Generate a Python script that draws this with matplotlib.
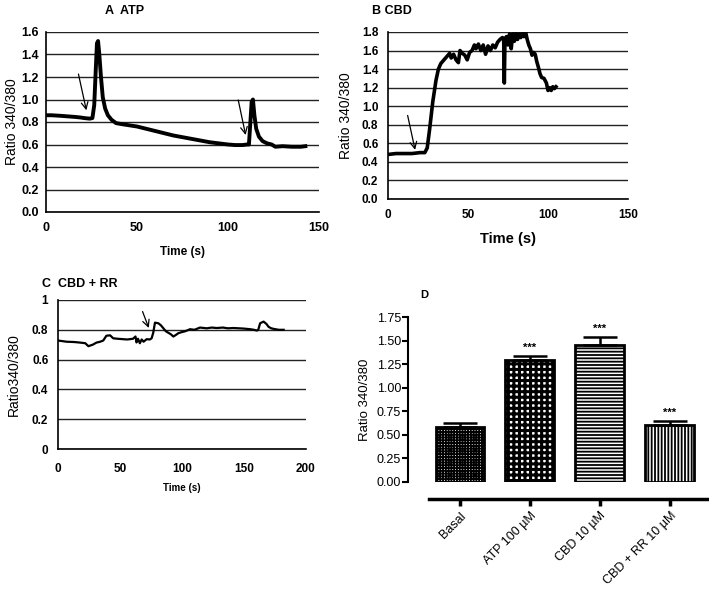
"""
Calcium imaging traces (A-C) and mean ratio bar chart (D)
"""

import numpy as np
import matplotlib.pyplot as plt

plt.rcParams['font.family'] = ['Liberation Sans', 'DejaVu Sans']
plt.rcParams['hatch.linewidth'] = 1.3

# ── Data ───────────────────────────────────────────────────────
atp_t = [0, 3, 8, 12, 16, 19, 21, 24, 25.5, 26.5, 27.3, 28, 28.6, 29.3, 30.2,
         31.2, 32.5, 34, 36, 38.5, 42, 46, 50, 55, 60, 65, 70, 75, 80, 85, 90,
         95, 100, 104, 108, 110.5, 111.5, 112.3, 113, 113.7, 114.5, 115.5,
         117, 119, 121.5, 124, 126, 130, 135, 140, 142.5]
atp_r = [0.86, 0.86, 0.855, 0.85, 0.845, 0.84, 0.835, 0.83, 0.835, 0.95, 1.25,
         1.50, 1.52, 1.40, 1.20, 1.02, 0.92, 0.86, 0.82, 0.79, 0.78, 0.77, 0.76,
         0.74, 0.72, 0.70, 0.68, 0.665, 0.65, 0.635, 0.62, 0.61, 0.60, 0.595,
         0.595, 0.60, 0.60, 0.80, 0.98, 1.00, 0.86, 0.74, 0.67, 0.63, 0.61,
         0.60, 0.58, 0.585, 0.58, 0.58, 0.585]
atp_arrows = [((17.5, 1.25), (22.5, 0.88)), ((105.3, 1.02), (110, 0.66))]

cbd_t = [0, 5, 10, 15, 20, 23, 24.5, 26, 28, 30, 31.5, 33, 35, 37, 38.5, 39.5,
         41, 42.5, 44, 45, 46.5, 48, 49.5, 51, 52.5, 54, 55, 56.5, 58, 59.5,
         61, 62.5, 64, 65.5, 67, 68.5, 70, 71.5, 72.3, 72.7, 73.1, 74, 75, 76,
         77, 78, 79, 80, 81, 82, 83, 84, 85, 86, 87, 88, 89, 90, 91, 92, 93,
         94, 95, 96, 97.5, 99, 100, 101, 102, 103, 104, 105]
cbd_r = [0.48, 0.49, 0.49, 0.49, 0.50, 0.50, 0.55, 0.75, 1.05, 1.28, 1.40, 1.46,
         1.50, 1.54, 1.57, 1.52, 1.56, 1.50, 1.47, 1.60, 1.57, 1.55, 1.50, 1.58,
         1.60, 1.66, 1.62, 1.67, 1.60, 1.66, 1.56, 1.65, 1.60, 1.66, 1.63, 1.69,
         1.72, 1.74, 1.73, 1.25, 1.72, 1.75, 1.66, 1.78, 1.62, 1.78, 1.70, 1.79,
         1.72, 1.78, 1.74, 1.79, 1.75, 1.80, 1.72, 1.66, 1.62, 1.55, 1.58, 1.56,
         1.48, 1.42, 1.35, 1.31, 1.30, 1.25, 1.17, 1.20, 1.17, 1.21, 1.19, 1.21]
cbd_arrow = ((11.9, 0.93), (17.3, 0.50))

rr_t = [0, 7, 13, 18, 22, 24.5, 28, 31, 34, 36.5, 39, 42, 44.5, 48, 52.5, 56,
        60.5, 62.5, 63.3, 64.5, 66, 67.5, 69, 71.5, 74, 75.5, 76.8, 78.2, 80.9,
        83, 85, 87, 89, 91, 93, 95, 97, 100, 102.5, 106.5, 110, 114.5, 120,
        124, 128, 133, 137, 141.5, 146, 150, 155, 158, 160.4, 161.5, 163, 165.8,
        168, 169.8, 172, 174, 178, 182]
rr_r = [0.728, 0.72, 0.718, 0.714, 0.71, 0.69, 0.70, 0.714, 0.72, 0.728, 0.76,
        0.763, 0.743, 0.74, 0.737, 0.735, 0.74, 0.755, 0.715, 0.74, 0.71, 0.735,
        0.72, 0.737, 0.735, 0.743, 0.78, 0.848, 0.844, 0.83, 0.81, 0.79, 0.78,
        0.77, 0.755, 0.765, 0.777, 0.785, 0.79, 0.804, 0.80, 0.815, 0.81, 0.815,
        0.812, 0.815, 0.81, 0.812, 0.81, 0.808, 0.804, 0.80, 0.795, 0.80, 0.844,
        0.855, 0.84, 0.82, 0.81, 0.806, 0.80, 0.80]
rr_arrow = ((67.4, 0.94), (74, 0.795))

groups = ["Basal", "ATP 100 \u00b5M", "CBD 10 \u00b5M", "CBD + RR 10 \u00b5M"]
means = [0.58, 1.29, 1.45, 0.60]
sems = [0.05, 0.05, 0.09, 0.05]
signif = ["", "***", "***", "***"]
hatches = ["++++++", "+++", "-----", "|||||"]
hatch_lw = [1.3, 2.2, 1.3, 1.3]

# ── Figure ─────────────────────────────────────────────────────
W, H = 709, 601
fig = plt.figure(figsize=(W / 100, H / 100), dpi=100)


def px_axes(x0, y0, x1, y1):
    return fig.add_axes([x0 / W, 1 - y1 / H, (x1 - x0) / W, (y1 - y0) / H])


def trace_style(ax, xmax, ymax, ystep, yfmt, tick_size=8.5):
    ax.set_xlim(0, xmax)
    ax.set_ylim(0, ymax)
    ax.set_yticks(np.arange(0, ymax + 1e-9, ystep))
    ax.set_yticklabels([yfmt(v) for v in np.arange(0, ymax + 1e-9, ystep)])
    ax.set_xticks(np.arange(0, xmax + 1, 50))
    ax.grid(axis='y', color='#222222', lw=1.0)
    ax.set_axisbelow(True)
    for s in ['top', 'right']:
        ax.spines[s].set_visible(False)
    for s in ['left', 'bottom']:
        ax.spines[s].set_linewidth(1.2)
    ax.tick_params(length=0, pad=7, labelsize=tick_size)
    for lab in ax.get_xticklabels() + ax.get_yticklabels():
        lab.set_fontweight('bold')


def arrow(ax, a):
    (x0, y0), (x1, y1) = a
    ax.annotate("", xy=(x1, y1), xytext=(x0, y0),
                arrowprops=dict(arrowstyle="->", color="black", lw=0.9,
                                mutation_scale=12))


# A  ATP
axA = px_axes(46, 32, 319, 212)
axA.plot(atp_t, atp_r, color='black', lw=2.8, solid_joinstyle='round')
for a in atp_arrows:
    arrow(axA, a)
trace_style(axA, 150, 1.6, 0.2, lambda v: f"{v:.1f}", tick_size=9)
axA.tick_params(axis='y', pad=5)
axA.set_ylabel("Ratio 340/380", fontsize=10, labelpad=2)
axA.set_xlabel("Time (s)", fontsize=8.5, fontweight='bold', labelpad=9)
fig.text(105 / W, 1 - 14 / H, "A  ATP", fontsize=9, fontweight='bold')

# B  CBD
axB = px_axes(388, 32, 628, 199)
axB.plot(cbd_t, cbd_r, color='black', lw=2.6, solid_joinstyle='round')
arrow(axB, cbd_arrow)
trace_style(axB, 150, 1.8, 0.2, lambda v: f"{v:.1f}")
axB.set_ylabel("Ratio 340/380", fontsize=10, labelpad=6)
axB.set_xlabel("Time (s)", fontsize=10.5, fontweight='bold', labelpad=8)
fig.text(372 / W, 1 - 14 / H, "B CBD", fontsize=9, fontweight='bold')

# C  CBD + RR
axC = px_axes(58, 300, 306, 449)
axC.plot(rr_t, rr_r, color='black', lw=1.6)
arrow(axC, rr_arrow)
trace_style(axC, 200, 1.0, 0.2, lambda v: f"{v:g}")
axC.tick_params(axis='x', pad=10)
axC.set_ylabel("Ratio340/380", fontsize=10, labelpad=8)
axC.set_xlabel("Time (s)", fontsize=7, fontweight='bold', labelpad=6)
fig.text(42 / W, 1 - 287 / H, "C  CBD + RR", fontsize=9, fontweight='bold')

# D  bar chart
axD = px_axes(429, 317, 707, 482)
for s in ['top', 'right']:
    axD.spines[s].set_visible(False)
axD.spines['left'].set_position(('outward', 15))
axD.spines['left'].set_bounds(0, 1.75)
axD.spines['left'].set_linewidth(1.5)
axD.spines['bottom'].set_position(('outward', 12))
axD.spines['bottom'].set_linewidth(2.5)

x = np.arange(len(groups))
bars = axD.bar(x, means, width=0.7, color='white', edgecolor='black',
               linewidth=2.0)
for b, h, hlw in zip(bars, hatches, hatch_lw):
    b.set_hatch(h)
    if hasattr(b, 'set_hatch_linewidth'):
        b.set_hatch_linewidth(hlw)
axD.errorbar(x, means, yerr=[[0] * len(sems), sems], fmt='none',
             ecolor='black', elinewidth=1.8, capsize=12, capthick=1.8)
for xi, m, s, lab in zip(x, means, sems, signif):
    if lab:
        axD.text(xi, m + s + 0.03, lab, ha='center', va='bottom',
                 fontsize=8, fontweight='bold')
axD.set_xlim(-0.443, 3.53)
axD.set_ylim(0, 1.75)
axD.set_yticks(np.arange(0, 1.76, 0.25))
axD.set_yticklabels([f"{v:.2f}" for v in np.arange(0, 1.76, 0.25)])
axD.set_xticks(x)
axD.set_xticklabels(groups)
axD.tick_params(axis='y', length=4, width=1.5, labelsize=9, pad=1)
axD.tick_params(axis='x', length=5, width=2.5, labelsize=9, pad=3)
for lab in axD.get_xticklabels():
    lab.set_rotation(45)
    lab.set_ha('right')
    lab.set_rotation_mode('anchor')
axD.set_ylabel("Ratio 340/380", fontsize=9.5, labelpad=4)
fig.text(420 / W, 1 - 298 / H, "D", fontsize=8, fontweight='bold')

fig.savefig("out.png", dpi=100)
